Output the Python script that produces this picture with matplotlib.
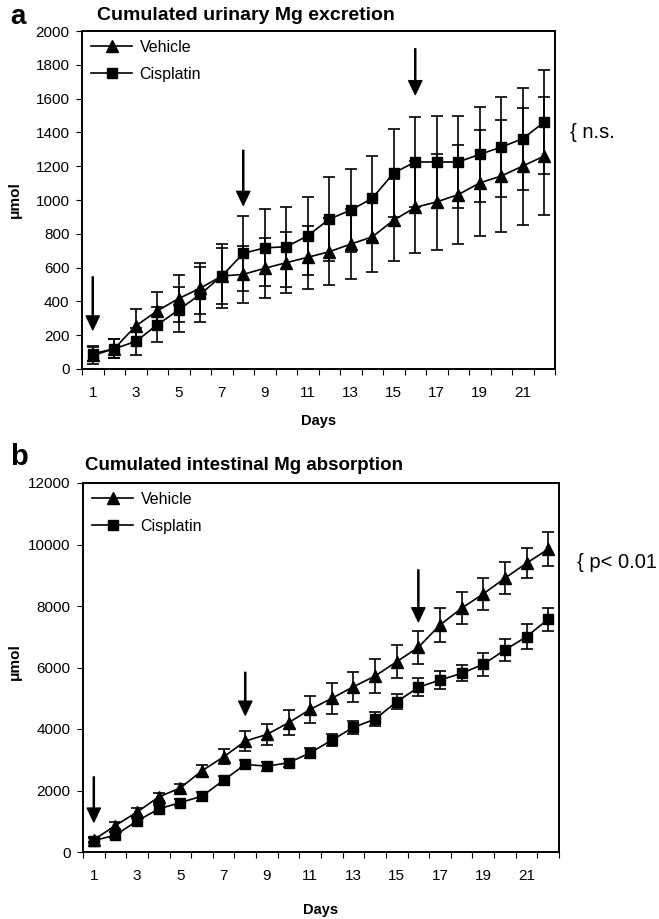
import matplotlib
matplotlib.use("Agg")
import matplotlib.pyplot as plt
from matplotlib.lines import Line2D
import numpy as np

plt.rcParams['font.family'] = ['Liberation Sans', 'DejaVu Sans']

days = list(range(1, 23))
xtick_labels = [str(d) for d in range(1, 23, 2)]

# Panel a: cumulated urinary Mg excretion (umol)
urin_vehicle = [80, 120, 255, 344, 417, 478, 550, 560, 596, 629, 661, 694,
                739, 782, 881, 956, 989, 1032, 1101, 1142, 1201, 1260]
urin_vehicle_se = [50, 55, 99, 110, 140, 150, 165, 170, 177, 180, 185, 197,
                   208, 206, 242, 272, 285, 295, 315, 330, 346, 350]
urin_cis = [90, 120, 163, 261, 350, 442, 550, 684, 717, 723, 788, 887,
            940, 1010, 1160, 1225, 1225, 1225, 1270, 1313, 1363, 1461]
urin_cis_se = [45, 55, 79, 104, 133, 164, 190, 220, 228, 236, 230, 249,
               246, 250, 262, 265, 272, 275, 280, 295, 302, 310]

# Panel b: cumulated intestinal Mg absorption (umol)
abs_vehicle = [400, 860, 1300, 1790, 2085, 2640, 3095, 3606, 3824, 4203, 4638, 4997,
               5375, 5723, 6189, 6658, 7384, 7928, 8394, 8905, 9394, 9850]
abs_vehicle_se = [80, 110, 130, 130, 140, 200, 245, 315, 350, 410, 445, 500,
                  490, 545, 545, 530, 540, 520, 515, 515, 490, 550]
abs_cis = [370, 550, 1010, 1400, 1609, 1814, 2336, 2846, 2792, 2900, 3225, 3638,
           4052, 4322, 4886, 5355, 5593, 5811, 6104, 6570, 7003, 7570]
abs_cis_se = [80, 100, 140, 120, 120, 150, 150, 130, 150, 130, 170, 205,
              215, 220, 245, 290, 280, 260, 380, 360, 410, 370]

# Injection arrows (day, start value, tip value)
arrow_days = [1, 8, 16]
arrow_a_start = [545, 1294, 1895]
arrow_a_tip = [232, 969, 1624]
arrow_b_start = [2443, 5844, 9176]
arrow_b_tip = [977, 4453, 7492]

W, H = 659, 919
fig = plt.figure(figsize=(W / 100, H / 100), dpi=100)


def px_axes(l, t, r, b):
    return fig.add_axes([l / W, 1 - b / H, (r - l) / W, (b - t) / H])


def draw_panel(ax, veh, veh_se, cis, cis_se, ymax, ystep, a_start, a_tip, xlpad):
    ax.errorbar(days, veh, yerr=veh_se, color='black', lw=1.2, elinewidth=1.2,
                capsize=4.5, capthick=1.2, marker='^', markersize=8,
                zorder=3)
    ax.errorbar(days, cis, yerr=cis_se, color='black', lw=1.2, elinewidth=1.2,
                capsize=4.5, capthick=1.2, marker='s', markersize=7,
                zorder=3)
    for d, s, t in zip(arrow_days, a_start, a_tip):
        ax.annotate('', xy=(d, t), xytext=(d, s),
                    arrowprops=dict(facecolor='black', edgecolor='black',
                                    width=0.8, headwidth=9.5, headlength=10,
                                    shrink=0))
    ax.set_xlim(0.5, 22.5)
    ax.set_ylim(0, ymax)
    ax.set_yticks(np.arange(0, ymax + 1, ystep))
    ax.set_xticks(range(1, 23, 2))
    ax.set_xticklabels(xtick_labels)
    ax.set_xticks(np.arange(0.5, 23, 1), minor=True)
    ax.tick_params(axis='x', which='major', length=0, pad=12, labelsize=11)
    ax.tick_params(axis='x', which='minor', length=4, width=0.8, direction='out')
    ax.tick_params(axis='y', which='major', length=4, width=0.8, pad=5,
                   labelsize=11, direction='out')
    for sp in ax.spines.values():
        sp.set_linewidth(1.4)
        sp.set_color('black')
    handles = [Line2D([], [], color='black', lw=1.2, marker='^', markersize=8),
               Line2D([], [], color='black', lw=1.2, marker='s', markersize=7)]
    ax.legend(handles, ['Vehicle', 'Cisplatin'], loc='upper left',
              bbox_to_anchor=(0.0, 1.0), frameon=False, fontsize=11.5,
              handlelength=2.6, numpoints=1, labelspacing=0.75,
              borderaxespad=0.15, handletextpad=0.45)
    ax.set_xlabel('Days', fontsize=10.5, fontweight='bold', labelpad=xlpad)
    return ax


ax1 = px_axes(82, 31, 555, 369)
draw_panel(ax1, urin_vehicle, urin_vehicle_se, urin_cis, urin_cis_se,
           2000, 200, arrow_a_start, arrow_a_tip, 10.5)
ax2 = px_axes(83, 483, 559, 852)
draw_panel(ax2, abs_vehicle, abs_vehicle_se, abs_cis, abs_cis_se,
           12000, 2000, arrow_b_start, arrow_b_tip, 14.5)


def ftext(x, y, s, **kw):
    fig.text(x / W, 1 - y / H, s, **kw)


ftext(10, 17, 'a', fontsize=20, fontweight='bold', va='center')
ftext(10, 457, 'b', fontsize=21, fontweight='bold', va='center')
ftext(97, 15, 'Cumulated urinary Mg excretion', fontsize=14,
      fontweight='bold', va='center')
ftext(85, 465, 'Cumulated intestinal Mg absorption', fontsize=13.5,
      fontweight='bold', va='center')
ftext(570, 132, '{ n.s.', fontsize=14.5, va='center')
ftext(577, 562, '{ p< 0.01', fontsize=14.5, va='center')
ftext(15, 200, 'μmol', fontsize=11, fontweight='bold', rotation=90,
      va='center', ha='center')
ftext(15, 662, 'μmol', fontsize=11, fontweight='bold', rotation=90,
      va='center', ha='center')

fig.savefig('out.png', dpi=100)
